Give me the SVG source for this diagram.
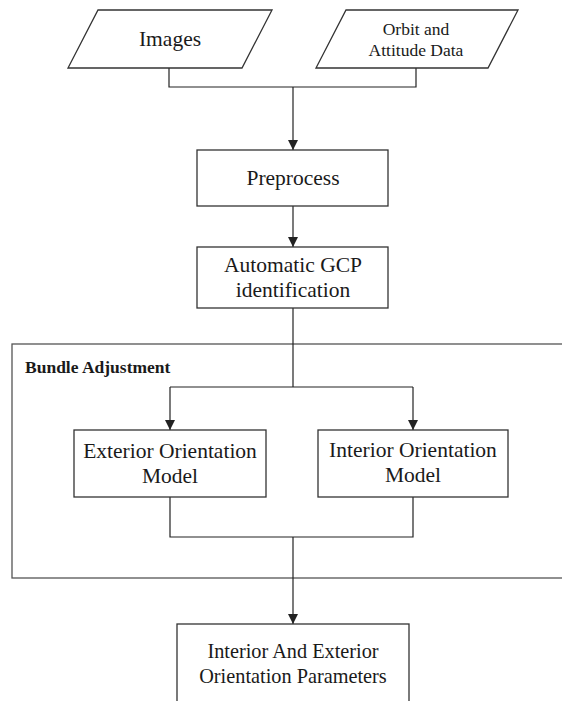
<svg xmlns="http://www.w3.org/2000/svg" width="562" height="701" viewBox="0 0 562 701">
<defs>
<style>
.box{fill:#fff;stroke:#333;stroke-width:1.3}
.frame{fill:none;stroke:#555;stroke-width:1.3}
.t{font-family:"Liberation Serif","Times New Roman",serif;font-size:21.5px;fill:#1a1a1a;text-anchor:middle}
.s{font-size:17.5px}
.f{font-size:20.3px}
.b{font-family:"Liberation Serif","Times New Roman",serif;font-size:17.5px;font-weight:bold;fill:#1a1a1a}
.c{fill:none;stroke:#222;stroke-width:1.2}
</style>
<marker id="ah" markerWidth="10" markerHeight="10" viewBox="0 0 10 10" refX="10" refY="5" orient="auto" markerUnits="userSpaceOnUse">
<path d="M0,0 L10,5 L0,10 Z" fill="#222"/>
</marker>
</defs>
<rect width="562" height="701" fill="#fff"/>
<g id="bundle">
<rect class="frame" x="12" y="344" width="570" height="234"/>
<text class="b" x="25" y="373">Bundle Adjustment</text>
</g>
<g id="connectors">
<polyline class="c" points="169,68 169,87 416,87 416,68"/>
<line class="c" x1="293" y1="87" x2="293" y2="150" marker-end="url(#ah)"/>
<line class="c" x1="293" y1="206" x2="293" y2="247" marker-end="url(#ah)"/>
<line class="c" x1="293" y1="308" x2="293" y2="387"/>
<line class="c" x1="170" y1="387" x2="413" y2="387"/>
<line class="c" x1="170" y1="387" x2="170" y2="430" marker-end="url(#ah)"/>
<line class="c" x1="413" y1="387" x2="413" y2="430" marker-end="url(#ah)"/>
<polyline class="c" points="170,497 170,537 413,537 413,497"/>
<line class="c" x1="293" y1="537" x2="293" y2="624" marker-end="url(#ah)"/>
</g>
<g id="images">
<polygon class="box" points="98,10 272,10 242,68 68,68"/>
<text class="t" x="170" y="46">Images</text>
</g>
<g id="orbit">
<polygon class="box" points="346,10 518,10 488,68 316,68"/>
<text class="t s" x="416" y="35">Orbit and</text>
<text class="t s" x="416" y="56">Attitude Data</text>
</g>
<g id="preprocess">
<rect class="box" x="197" y="150" width="191" height="56"/>
<text class="t" x="293" y="185">Preprocess</text>
</g>
<g id="gcp">
<rect class="box" x="197" y="247" width="191" height="61"/>
<text class="t" x="293" y="272">Automatic GCP</text>
<text class="t" x="293" y="297">identification</text>
</g>
<g id="exterior">
<rect class="box" x="74" y="430" width="192" height="67"/>
<text class="t" x="170" y="458">Exterior Orientation</text>
<text class="t" x="170" y="483">Model</text>
</g>
<g id="interior">
<rect class="box" x="318" y="430" width="190" height="67"/>
<text class="t" x="413" y="457">Interior Orientation</text>
<text class="t" x="413" y="482">Model</text>
</g>
<g id="result">
<rect class="box" x="177" y="624" width="232" height="90"/>
<text class="t f" x="293" y="658">Interior And Exterior</text>
<text class="t f" x="293" y="683">Orientation Parameters</text>
</g>
</svg>
